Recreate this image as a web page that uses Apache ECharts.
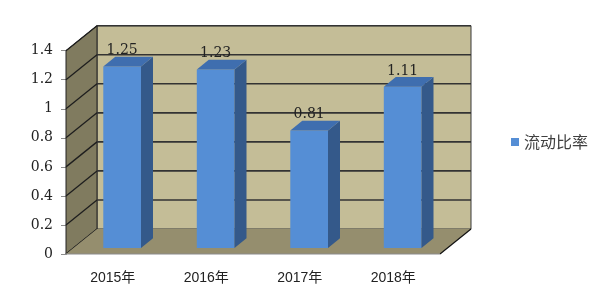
<!DOCTYPE html>
<html><head><meta charset="utf-8">
<script src="https://cdn.jsdelivr.net/npm/echarts@6/dist/echarts.min.js"></script>
<style>html,body{margin:0;padding:0;background:#fff}#c{width:604px;height:288px}</style>
</head><body><div id="c"></div>
<script>
const categories = ['2015年', '2016年', '2017年', '2018年'];
const values = [1.25, 1.23, 0.81, 1.11];
const seriesName = '流动比率';
const yMin = 0, yMax = 1.4, yInterval = 0.2;

// 3D look constants (pixels)
const WALL_DX = 31, WALL_DY = -25;
const BAR_OFF_X = 9.4, BAR_OFF_Y = -6, BAR_W = 37.7, BAR_DX = 12, BAR_DY = -9.7;
const COL_BACK = '#C4BD97', COL_SIDE = '#807B5F', COL_FLOOR = '#958E6E';
const COL_FRONT = '#558ED5', COL_TOP = '#3F6EAF', COL_RIGHT = '#34598A';
const SERIF = '"DejaVu Serif", "Liberation Serif", serif';

const ticks = [];
for (let v = yMin; v <= yMax + 1e-9; v += yInterval) ticks.push(+v.toFixed(2));

const chart = echarts.init(document.getElementById('c'), null, {renderer: 'canvas'});

function wallsRender(params, api) {
  const cs = params.coordSys;
  const x0 = cs.x, x1 = cs.x + cs.width;
  const y0 = api.coord([0, yMin])[1];
  const yTop = api.coord([0, yMax])[1];
  const children = [];
  children.push({type: 'polygon', shape: {points: [[x0 + WALL_DX, yTop + WALL_DY], [x1 + WALL_DX, yTop + WALL_DY], [x1 + WALL_DX, y0 + WALL_DY], [x0 + WALL_DX, y0 + WALL_DY]]},
    style: {fill: COL_BACK, stroke: '#3a3a3a', lineWidth: 1}});
  children.push({type: 'polygon', shape: {points: [[x0, yTop], [x0 + WALL_DX, yTop + WALL_DY], [x0 + WALL_DX, y0 + WALL_DY], [x0, y0]]},
    style: {fill: COL_SIDE, stroke: '#222', lineWidth: 1}});
  ticks.forEach(function (t) {
    const y = api.coord([0, t])[1];
    children.push({type: 'line', shape: {x1: x0, y1: y, x2: x0 + WALL_DX, y2: y + WALL_DY}, style: {stroke: '#1e1e1e', lineWidth: 1.3}});
    if (t > yMin) children.push({type: 'line', shape: {x1: x0 + WALL_DX, y1: y + WALL_DY, x2: x1 + WALL_DX, y2: y + WALL_DY}, style: {stroke: '#333', lineWidth: 1.6}});
  });
  children.push({type: 'polygon', shape: {points: [[x0, y0], [x0 + WALL_DX, y0 + WALL_DY], [x1 + WALL_DX, y0 + WALL_DY], [x1, y0]]},
    style: {fill: COL_FLOOR, stroke: null}});
  children.push({type: 'line', shape: {x1: x1, y1: y0, x2: x1 + WALL_DX, y2: y0 + WALL_DY}, style: {stroke: '#111', lineWidth: 1.2}});
  children.push({type: 'line', shape: {x1: x0, y1: y0, x2: x1, y2: y0}, style: {stroke: '#8a8a8a', lineWidth: 1}});
  return {type: 'group', children: children};
}

function barRender(params, api) {
  const i = api.value(0), v = api.value(1);
  const c0 = api.coord([i, 0]);
  const c1 = api.coord([i, v]);
  const xL = c0[0] + BAR_OFF_X - BAR_W / 2, xR = xL + BAR_W;
  const yB = c0[1] + BAR_OFF_Y, yT = c1[1] + BAR_OFF_Y;
  return {type: 'group', children: [
    {type: 'rect', shape: {x: xL, y: yT, width: BAR_W, height: yB - yT}, style: {fill: COL_FRONT}},
    {type: 'polygon', shape: {points: [[xR, yB], [xR, yT], [xR + BAR_DX, yT + BAR_DY], [xR + BAR_DX, yB + BAR_DY]]}, style: {fill: COL_RIGHT}},
    {type: 'polygon', shape: {points: [[xL, yT], [xR, yT], [xR + BAR_DX, yT + BAR_DY], [xL + BAR_DX, yT + BAR_DY]]}, style: {fill: COL_TOP}},
    {type: 'text', style: {x: (xL + xR) / 2, y: yT + BAR_DY + 1, text: String(v), align: 'center', verticalAlign: 'bottom',
      font: '14px ' + SERIF, fill: '#222'}}
  ]};
}

chart.setOption({
  animation: false,
  grid: {left: 66, right: 164, top: 50.7, bottom: 34, containLabel: false},
  legend: {data: [{name: seriesName, icon: 'rect'}], left: 506, top: 129, itemWidth: 8, itemHeight: 8, itemGap: 5,
    textStyle: {fontSize: 16, color: '#404040', fontFamily: '"Noto Sans CJK SC", sans-serif'}},
  xAxis: {type: 'category', data: categories, boundaryGap: true,
    axisLine: {show: false}, axisTick: {show: false},
    axisLabel: {margin: 17, fontSize: 14, color: '#222', fontFamily: '"Liberation Sans", "Noto Sans CJK SC", sans-serif'}},
  yAxis: {type: 'value', min: yMin, max: yMax, interval: yInterval,
    axisLine: {show: true, lineStyle: {color: '#8c8c8c', width: 1}},
    axisTick: {show: true, length: 5, lineStyle: {color: '#8c8c8c'}},
    splitLine: {show: false},
    axisLabel: {margin: 13, fontSize: 14, color: '#222', fontFamily: SERIF}},
  series: [
    {type: 'custom', name: '_walls', renderItem: wallsRender, data: [[0, 0]], z: 1, silent: true},
    {type: 'custom', name: seriesName, renderItem: barRender, itemStyle: {color: COL_FRONT},
      data: values.map(function (v, i) { return [i, v]; }), encode: {x: 0, y: 1}, z: 3}
  ]
});
</script></body></html>
